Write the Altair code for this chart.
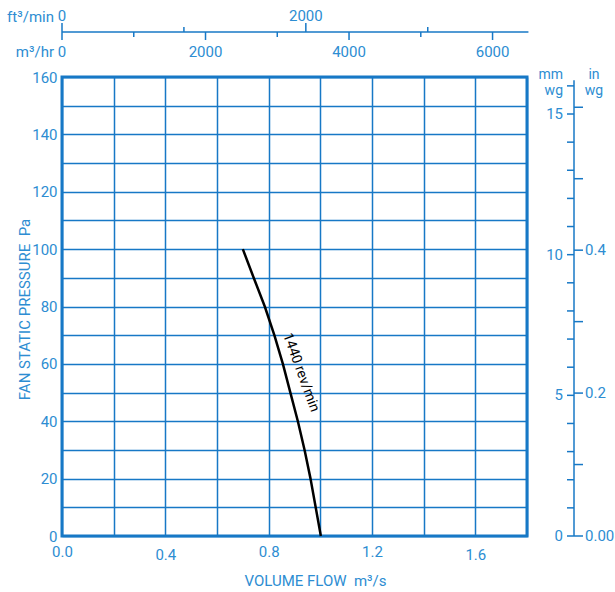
import altair as alt
import pandas as pd

# ---- data ----
flow = [0.700, 0.742, 0.785, 0.822, 0.855, 0.884, 0.913, 0.939, 0.962, 0.982, 1.002]
pressure = [100, 90, 80, 70, 60, 50, 40, 30, 20, 10, 0]
curve_label = ["1440 rev/min"]
label_flow = [0.925]
label_pressure = [57]

x_grid = [0.0, 0.2, 0.4, 0.6, 0.8, 1.0, 1.2, 1.4, 1.6, 1.8]
y_grid = [0, 10, 20, 30, 40, 50, 60, 70, 80, 90, 100, 110, 120, 130, 140, 150, 160]

m3hr_major = [0, 2000, 4000, 6000]
m3hr_minor = [1000, 3000, 5000]
m3hr_axis_end = [6500]
cfm_major = [0, 2000]
cfm_minor = [1000, 3000]
mmwg_ticks = list(range(0, 17))
mmwg_labels = [0, 5, 10, 15]
mmwg_axis_end = [16.2]
inwg_ticks = [0.0, 0.1, 0.2, 0.3, 0.4, 0.5, 0.6]
inwg_label_values = [0.0, 0.2, 0.4]
inwg_label_text = ["0.00", "0.2", "0.4"]

GRID = "#1778c6"
TXT = "#2d8dd2"
FONT = "Roboto, sans-serif"
SP = "\u00a0\u00a0"

xs = alt.Scale(domain=[0, 1.8], nice=False, zero=False)
ys = alt.Scale(domain=[0, 160], nice=False, zero=False)

curve_df = pd.DataFrame({"flow": flow, "pressure": pressure})

x_axis = alt.Axis(
    values=x_grid, grid=True, gridColor=GRID, gridWidth=1.5, domain=False, ticks=False,
    labelExpr="(round(datum.value*10) % 4 == 0 && datum.value < 1.7) ? format(datum.value, '.1f') : ''",
    labelPadding={"condition": {"test": "abs(datum.value-0.4)<0.01 || abs(datum.value-1.6)<0.01", "value": 11}, "value": 8},
    labelFontSize=15, labelColor=TXT, labelFlush=False, labelOverlap=False,
    title="VOLUME FLOW" + SP + "m³/s", titleX=253, titleY=44, titleBaseline="middle", titleAlign="center",
    titleFontSize=15, titleFontWeight="normal", titleColor=TXT,
)
y_axis = alt.Axis(
    values=y_grid, grid=True, gridColor=GRID, gridWidth=1.5, domain=False, ticks=False,
    labelExpr="datum.value % 20 == 0 ? datum.label : ''",
    labelPadding=5, labelFontSize=15, labelColor=TXT, labelFlush=False, labelOverlap=False,
    title="FAN STATIC PRESSURE" + SP + "Pa", titleX=-38, titleY=232, titleAngle=270,
    titleBaseline="middle", titleAlign="center",
    titleFontSize=15, titleFontWeight="normal", titleColor=TXT,
)

curve = alt.Chart(curve_df).mark_line(color="black", strokeWidth=2.5, strokeJoin="round").encode(
    x=alt.X("flow:Q", scale=xs, axis=x_axis),
    y=alt.Y("pressure:Q", scale=ys, axis=y_axis),
)

curve_text = alt.Chart(pd.DataFrame({"f": label_flow, "p": label_pressure, "t": curve_label})).mark_text(
    angle=70, fontSize=14, color="black", align="center", baseline="middle"
).encode(x=alt.X("f:Q", scale=xs, axis=None), y=alt.Y("p:Q", scale=ys, axis=None), text="t:N")

# ---- top axes (m3/hr below the line, ft3/min above) ----
def xq(field):
    return alt.X(field + ":Q", scale=xs, axis=None)

top_line = alt.Chart(pd.DataFrame({"a": [0], "b": m3hr_axis_end})).transform_calculate(
    qa="datum.a/3600", qb="datum.b/3600"
).mark_rule(color=GRID, strokeWidth=1.5).encode(
    x=alt.X("qa:Q", scale=xs, axis=None), x2="qb:Q", y=alt.value(-45)
)

m3_major = alt.Chart(pd.DataFrame({"v": m3hr_major})).transform_calculate(q="datum.v/3600")
m3_major_ticks = m3_major.mark_rule(color=GRID, strokeWidth=1.5).encode(
    x=xq("q"), y=alt.value(-45), y2=alt.value(-37))
m3_labels = m3_major.mark_text(fontSize=15, color=TXT, baseline="middle", align="center").encode(
    x=xq("q"), y=alt.value(-25), text=alt.Text("v:Q", format="d"))
m3_minor_ticks = alt.Chart(pd.DataFrame({"v": m3hr_minor})).transform_calculate(q="datum.v/3600").mark_rule(
    color=GRID, strokeWidth=1.5).encode(x=xq("q"), y=alt.value(-45), y2=alt.value(-40))

cf_major = alt.Chart(pd.DataFrame({"v": cfm_major})).transform_calculate(q="datum.v*0.000471947")
cf_major_ticks = cf_major.mark_rule(color=GRID, strokeWidth=1.5).encode(
    x=xq("q"), y=alt.value(-54), y2=alt.value(-45))
cf_labels = cf_major.mark_text(fontSize=15, color=TXT, baseline="middle", align="center").encode(
    x=xq("q"), y=alt.value(-61), text=alt.Text("v:Q", format="d"))
cf_minor_ticks = alt.Chart(pd.DataFrame({"v": cfm_minor})).transform_calculate(q="datum.v*0.000471947").mark_rule(
    color=GRID, strokeWidth=1.5).encode(x=xq("q"), y=alt.value(-50), y2=alt.value(-45))

top_titles = alt.Chart(pd.DataFrame({"t": ["ft³/min", "m³/hr"], "yy": [-60, -25]})).mark_text(
    fontSize=15, color=TXT, baseline="middle", align="right"
).encode(x=alt.value(-8), y=alt.Y("yy:Q", scale=None, axis=None), text="t:N")

# ---- right axes (mm wg left of line, in wg right of line) ----
def yp():
    return alt.Y("pa:Q", scale=ys, axis=None)

right_line = alt.Chart(pd.DataFrame({"a": [0], "b": mmwg_axis_end})).transform_calculate(
    pa="datum.a*9.80665", pb="datum.b*9.80665"
).mark_rule(color=GRID, strokeWidth=1.5).encode(y=yp(), y2="pb:Q", x=alt.value(512))
mm_ticks = alt.Chart(pd.DataFrame({"v": mmwg_ticks})).transform_calculate(pa="datum.v*9.80665").mark_rule(
    color=GRID, strokeWidth=1.5).encode(y=yp(), x=alt.value(505), x2=alt.value(512))
mm_labels = alt.Chart(pd.DataFrame({"v": mmwg_labels})).transform_calculate(pa="datum.v*9.80665").mark_text(
    fontSize=15, color=TXT, baseline="middle", align="right").encode(
    y=yp(), x=alt.value(501), text=alt.Text("v:Q", format="d"))
in_ticks = alt.Chart(pd.DataFrame({"v": inwg_ticks})).transform_calculate(pa="datum.v*249.089").mark_rule(
    color=GRID, strokeWidth=1.5).encode(y=yp(), x=alt.value(512), x2=alt.value(521))
in_labels = alt.Chart(pd.DataFrame({"v": inwg_label_values, "t": inwg_label_text})).transform_calculate(
    pa="datum.v*249.089").mark_text(fontSize=15, color=TXT, baseline="middle", align="left").encode(
    y=yp(), x=alt.value(523), text="t:N")

hdr = pd.DataFrame({"t": ["mm", "wg", "in", "wg"], "xx": [501, 501, 532, 532], "yy": [-2, 14, -2, 14],
                    "al": ["right", "right", "center", "center"]})
right_titles_r = alt.Chart(hdr).transform_filter("datum.al == 'right'").mark_text(
    fontSize=14, color=TXT, baseline="middle", align="right").encode(
    x=alt.X("xx:Q", scale=None, axis=None), y=alt.Y("yy:Q", scale=None, axis=None), text="t:N")
right_titles_c = alt.Chart(hdr).transform_filter("datum.al == 'center'").mark_text(
    fontSize=14, color=TXT, baseline="middle", align="center").encode(
    x=alt.X("xx:Q", scale=None, axis=None), y=alt.Y("yy:Q", scale=None, axis=None), text="t:N")

chart = alt.layer(
    curve, curve_text,
    top_line, m3_major_ticks, m3_minor_ticks, m3_labels,
    cf_major_ticks, cf_minor_ticks, cf_labels, top_titles,
    right_line, mm_ticks, mm_labels, in_ticks, in_labels, right_titles_r, right_titles_c,
).resolve_axis(x="independent", y="independent").properties(
    width=465, height=459,
    autosize=alt.AutoSizeParams(type="none"),
    padding={"left": 62, "top": 77, "right": 88, "bottom": 56},
).configure(font=FONT, background="white").configure_view(stroke=GRID, strokeWidth=3)

chart.save("out.html", embed_options={"renderer": "svg", "actions": False})
